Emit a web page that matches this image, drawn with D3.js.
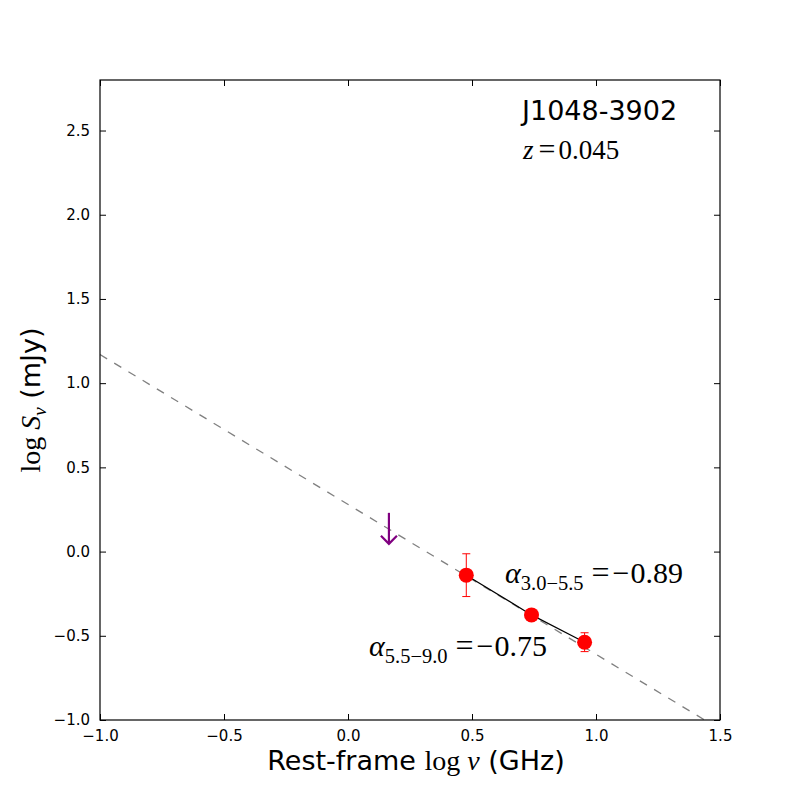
<!DOCTYPE html>
<html>
<head>
<meta charset="utf-8">
<script src="https://cdn.jsdelivr.net/npm/d3@7"></script>
<style>
  body { margin: 0; background: #fff; }
</style>
</head>
<body>
<script>
// measured spectrum points (rest-frame log nu, log S)
const logNu = [0.477, 0.740, 0.954];
const logS = [-0.14, -0.376, -0.538];
const logSErr = [0.127, 0.03, 0.056];

// upper limit
const limNu = [0.165];
const limS = [0.23];

// extrapolated power law (dashed)
const fitNu = [-1.0, 1.5];
const fitS = [1.17, -1.055];

const xTicks = [-1.0, -0.5, 0.0, 0.5, 1.0, 1.5];
const yTicks = [-1.0, -0.5, 0.0, 0.5, 1.0, 1.5, 2.0, 2.5];

const width = 800;
const height = 800;
const pLeft = 100, pRight = 720, pTop = 80, pBottom = 720;

const svg = d3.select("body")
    .append("svg")
    .attr("width", width)
    .attr("height", height);

// X scale
const x = d3.scaleLinear()
    .domain([-1.0, 1.5])
    .range([pLeft, pRight]);

// Y scale
const y = d3.scaleLinear()
    .domain([-1.0, 2.8])
    .range([pBottom, pTop]);

svg.append("clipPath")
    .attr("id", "plotclip")
    .append("rect")
    .attr("x", pLeft)
    .attr("y", pTop)
    .attr("width", pRight - pLeft)
    .attr("height", pBottom - pTop);

const plot = svg.append("g").attr("clip-path", "url(#plotclip)");

// dashed extrapolation
const line = d3.line()
    .x(d => x(d[0]))
    .y(d => y(d[1]));

plot.append("path")
    .datum(d3.zip(fitNu, fitS))
    .attr("fill", "none")
    .attr("stroke", "#808080")
    .attr("stroke-width", 1.3)
    .attr("stroke-dasharray", "8.3,8.3")
    .attr("d", line);

// solid segments between points
plot.append("path")
    .datum(d3.zip(logNu, logS))
    .attr("fill", "none")
    .attr("stroke", "black")
    .attr("stroke-width", 1.2)
    .attr("d", line);

// error bars
const pts = logNu.map((v, i) => ({nu: v, s: logS[i], e: logSErr[i]}));
const eb = plot.selectAll("g.err")
    .data(pts)
    .enter()
    .append("g")
    .attr("stroke", "red")
    .attr("stroke-width", 1);

eb.append("line")
    .attr("x1", d => x(d.nu)).attr("x2", d => x(d.nu))
    .attr("y1", d => y(d.s - d.e)).attr("y2", d => y(d.s + d.e));
eb.append("line")
    .attr("x1", d => x(d.nu) - 4).attr("x2", d => x(d.nu) + 4)
    .attr("y1", d => y(d.s + d.e)).attr("y2", d => y(d.s + d.e));
eb.append("line")
    .attr("x1", d => x(d.nu) - 4).attr("x2", d => x(d.nu) + 4)
    .attr("y1", d => y(d.s - d.e)).attr("y2", d => y(d.s - d.e));

// markers
plot.selectAll("circle")
    .data(pts)
    .enter()
    .append("circle")
    .attr("cx", d => x(d.nu))
    .attr("cy", d => y(d.s))
    .attr("r", 7.5)
    .attr("fill", "red");

// upper limit arrow
const lims = limNu.map((v, i) => ({nu: v, s: limS[i]}));
const arrow = plot.selectAll("g.lim")
    .data(lims)
    .enter()
    .append("g")
    .attr("stroke", "purple")
    .attr("stroke-width", 2.2)
    .attr("fill", "none");
arrow.append("line")
    .attr("x1", d => x(d.nu)).attr("x2", d => x(d.nu))
    .attr("y1", d => y(d.s)).attr("y2", d => y(d.s) + 31);
arrow.append("path")
    .attr("d", d => {
        const cx = x(d.nu), cy = y(d.s) + 31;
        return `M${cx - 8},${cy - 8}L${cx},${cy}L${cx + 8},${cy - 8}`;
    });

// axes with inward ticks
const fmt = d3.format(".1f");
svg.append("g")
    .attr("transform", `translate(0,${pBottom})`)
    .call(d3.axisBottom(x).tickValues(xTicks).tickFormat(fmt).tickSizeInner(-6).tickSizeOuter(0).tickPadding(10));
svg.append("g")
    .attr("transform", `translate(0,${pTop})`)
    .call(d3.axisTop(x).tickValues(xTicks).tickFormat("").tickSizeInner(-6).tickSizeOuter(0));
svg.append("g")
    .attr("transform", `translate(${pLeft},0)`)
    .call(d3.axisLeft(y).tickValues(yTicks).tickFormat(fmt).tickSizeInner(-6).tickSizeOuter(0).tickPadding(10));
svg.append("g")
    .attr("transform", `translate(${pRight},0)`)
    .call(d3.axisRight(y).tickValues(yTicks).tickFormat("").tickSizeInner(-6).tickSizeOuter(0));

svg.selectAll(".tick text")
    .attr("font-family", "DejaVu Sans")
    .attr("font-size", 15)
    .attr("fill", "black");
svg.selectAll(".domain").remove();

// frame
svg.append("rect")
    .attr("x", pLeft)
    .attr("y", pTop)
    .attr("width", pRight - pLeft)
    .attr("height", pBottom - pTop)
    .attr("fill", "none")
    .attr("stroke", "black")
    .attr("stroke-width", 1.2);

// mixed math text helper
const serif = "Liberation Serif";
const sans = "DejaVu Sans";
function mathText(g, xPos, yPos, parts, anchor) {
    const t = g.append("text")
        .attr("x", xPos)
        .attr("y", yPos)
        .attr("text-anchor", anchor || "start")
        .attr("fill", "black");
    parts.forEach(p => {
        t.append("tspan")
            .attr("font-family", p.f || serif)
            .attr("font-style", p.i ? "italic" : "normal")
            .attr("font-size", p.s || 28)
            .attr("dy", p.dy || 0)
            .attr("dx", p.dx || 0)
            .text(p.t);
    });
    return t;
}

// title text
svg.append("text")
    .attr("x", 522)
    .attr("y", 120)
    .attr("font-family", sans)
    .attr("font-size", 27)
    .attr("fill", "black")
    .text("J1048-3902");

mathText(svg, 523, 159, [
    {t: "z", i: true, s: 27},
    {t: "=", dx: 5, s: 30},
    {t: "0.045", dx: 3, s: 27}
]);

// spectral index labels
mathText(svg, 505, 583, [
    {t: "α", i: true, s: 30},
    {t: "3.0−5.5", s: 20.5, dy: 7},
    {t: "=", dy: -7, dx: 8, s: 32},
    {t: "−", dx: 3, s: 30},
    {t: "0.89", dx: 1, s: 30}
]);

mathText(svg, 369, 656, [
    {t: "α", i: true, s: 30},
    {t: "5.5−9.0", s: 20.5, dy: 7},
    {t: "=", dy: -7, dx: 8, s: 32},
    {t: "−", dx: 3, s: 30},
    {t: "0.75", dx: 1, s: 30}
]);

// x label
mathText(svg, 416, 770, [
    {t: "Rest-frame ", f: sans, s: 27},
    {t: "log ", s: 28},
    {t: "ν", i: true, s: 28},
    {t: " (GHz)", f: sans, s: 27}
], "middle");

// y label
const yl = svg.append("g").attr("transform", "translate(40,400) rotate(-90)");
mathText(yl, 0, 0, [
    {t: "log ", s: 28},
    {t: "S", i: true, s: 28},
    {t: "ν", i: true, s: 19, dy: 6},
    {t: " (mJy)", f: sans, s: 27, dy: -6}
], "middle");
</script>
</body>
</html>
